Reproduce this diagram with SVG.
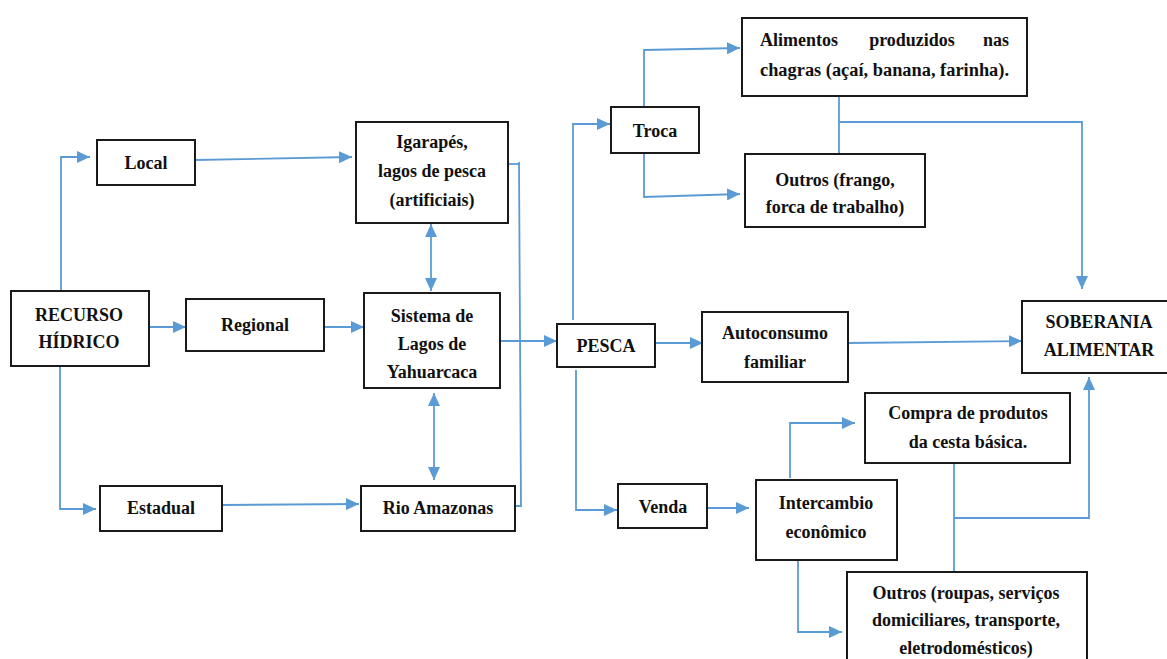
<svg xmlns="http://www.w3.org/2000/svg" width="1167" height="659" viewBox="0 0 1167 659">
  <defs>
    <marker id="arrow" markerUnits="userSpaceOnUse" markerWidth="13" markerHeight="12" refX="13" refY="6" orient="auto-start-reverse">
      <path d="M0,0 L13,6 L0,12 Z" fill="#5B9BD5"/>
    </marker>
    <style>
      .box { fill: #ffffff; stroke: #1a1a1a; stroke-width: 2; }
      .lbl { font-family: 'Liberation Serif', 'DejaVu Serif', serif; font-weight: bold; font-size: 18px; fill: #111111; text-anchor: middle; }
      .lft { text-anchor: start; }
      .rgt { text-anchor: end; }
      .wire { fill: none; stroke: #5B9BD5; stroke-width: 1.8; }
      .to { marker-end: url(#arrow); }
      .both { marker-start: url(#arrow); marker-end: url(#arrow); }
    </style>
  </defs>
  <rect width="1167" height="659" fill="#ffffff"/>

  <g id="connectors">
    <path class="wire to" d="M61,291 V157 H90"/>
    <path class="wire to" d="M195,160 L352,157"/>
    <path class="wire both" d="M431,224 V291"/>
    <path class="wire to" d="M149,327 H186"/>
    <path class="wire to" d="M324,327 H364"/>
    <path class="wire to" d="M60,366 V509 H96"/>
    <path class="wire to" d="M222,505 L359,504"/>
    <path class="wire both" d="M434,393 V480"/>
    <path class="wire" d="M508,164 H520"/>
    <path class="wire" d="M519,162 L521,506 H515"/>
    <path class="wire to" d="M500,341 H557"/>
    <path class="wire to" d="M573,320 V124 H610"/>
    <path class="wire to" d="M644,107 V50 L740,48"/>
    <path class="wire to" d="M644,153 V197 L740,194"/>
    <path class="wire" d="M839,96 V154"/>
    <path class="wire to" d="M839,122 H1082 V289"/>
    <path class="wire to" d="M655,343 H703"/>
    <path class="wire to" d="M848,343 L1022,341"/>
    <path class="wire to" d="M576,370 V510 H617"/>
    <path class="wire to" d="M707,508 H749"/>
    <path class="wire to" d="M790,478 V423 H855"/>
    <path class="wire to" d="M798,561 V632 H842"/>
    <path class="wire" d="M954,463 V572"/>
    <path class="wire to" d="M954,518 H1089 V377"/>
  </g>

  <g id="recurso-hidrico">
    <rect class="box" x="11" y="291" width="138" height="75"/>
    <text class="lbl" x="79" y="321">RECURSO</text>
    <text class="lbl" x="79" y="348">HÍDRICO</text>
  </g>
  <g id="local">
    <rect class="box" x="97" y="140" width="98" height="45"/>
    <text class="lbl" x="146" y="169">Local</text>
  </g>
  <g id="regional">
    <rect class="box" x="186" y="299" width="138" height="52"/>
    <text class="lbl" x="255" y="331">Regional</text>
  </g>
  <g id="estadual">
    <rect class="box" x="100" y="486" width="122" height="45"/>
    <text class="lbl" x="161" y="514">Estadual</text>
  </g>
  <g id="igarapes">
    <rect class="box" x="356" y="122" width="152" height="101"/>
    <text class="lbl" x="432" y="148">Igarapés,</text>
    <text class="lbl" x="432" y="177">lagos de pesca</text>
    <text class="lbl" x="432" y="206">(artificiais)</text>
  </g>
  <g id="sistema-lagos">
    <rect class="box" x="364" y="293" width="136" height="95"/>
    <text class="lbl" x="432" y="322">Sistema de</text>
    <text class="lbl" x="432" y="350">Lagos de</text>
    <text class="lbl" x="432" y="378">Yahuarcaca</text>
  </g>
  <g id="rio-amazonas">
    <rect class="box" x="361" y="486" width="154" height="45"/>
    <text class="lbl" x="438" y="514">Rio Amazonas</text>
  </g>
  <g id="pesca">
    <rect class="box" x="557" y="324" width="98" height="43"/>
    <text class="lbl" x="606" y="352">PESCA</text>
  </g>
  <g id="troca">
    <rect class="box" x="611" y="107" width="88" height="46"/>
    <text class="lbl" x="655" y="137">Troca</text>
  </g>
  <g id="alimentos">
    <rect class="box" x="742" y="18" width="285" height="78"/>
    <text class="lbl lft" x="760" y="46">Alimentos</text>
    <text class="lbl" x="912" y="46">produzidos</text>
    <text class="lbl rgt" x="1009" y="46">nas</text>
    <text class="lbl lft" x="760" y="76" textLength="249" lengthAdjust="spacingAndGlyphs">chagras (açaí, banana, farinha).</text>
  </g>
  <g id="outros-frango">
    <rect class="box" x="745" y="154" width="180" height="73"/>
    <text class="lbl" x="835" y="186">Outros (frango,</text>
    <text class="lbl" x="835" y="213">forca de trabalho)</text>
  </g>
  <g id="autoconsumo">
    <rect class="box" x="702" y="312" width="146" height="70"/>
    <text class="lbl" x="775" y="339">Autoconsumo</text>
    <text class="lbl" x="775" y="368">familiar</text>
  </g>
  <g id="soberania">
    <rect class="box" x="1022" y="301" width="154" height="72"/>
    <text class="lbl" x="1099" y="328">SOBERANIA</text>
    <text class="lbl" x="1099" y="356">ALIMENTAR</text>
  </g>
  <g id="venda">
    <rect class="box" x="618" y="484" width="89" height="44"/>
    <text class="lbl" x="663" y="513">Venda</text>
  </g>
  <g id="intercambio">
    <rect class="box" x="756" y="480" width="141" height="80"/>
    <text class="lbl" x="826" y="509">Intercambio</text>
    <text class="lbl" x="826" y="538">econômico</text>
  </g>
  <g id="compra">
    <rect class="box" x="865" y="393" width="205" height="70"/>
    <text class="lbl" x="968" y="419">Compra de produtos</text>
    <text class="lbl" x="968" y="448">da cesta básica.</text>
  </g>
  <g id="outros-roupas">
    <rect class="box" x="847" y="572" width="240" height="100"/>
    <text class="lbl" x="966" y="599">Outros (roupas, serviços</text>
    <text class="lbl" x="966" y="626">domiciliares, transporte,</text>
    <text class="lbl" x="966" y="654">eletrodomésticos)</text>
  </g>
</svg>
